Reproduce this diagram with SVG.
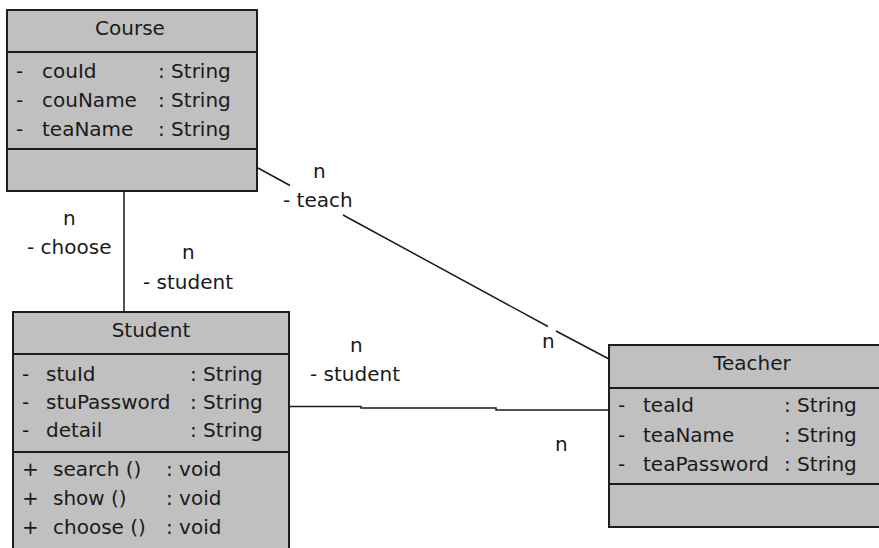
<svg xmlns="http://www.w3.org/2000/svg" width="879" height="548" viewBox="0 0 879 548">
  <style>
    .box { fill: #c0c0c0; stroke: #1e1e1e; stroke-width: 2; }
    .sep { stroke: #1e1e1e; stroke-width: 2; }
    .conn { stroke: #1a1a1a; stroke-width: 1.5; fill: none; }
    text { font-family: "DejaVu Sans", "Liberation Sans", sans-serif; font-size: 20px; fill: #1a1a1a; }
    .mid { text-anchor: middle; }
  </style>
  <rect x="0" y="0" width="879" height="548" fill="#ffffff"/>

  <!-- connectors -->
  <g id="connectors">
    <!-- Course - Student -->
    <line class="conn" x1="124" y1="191" x2="124" y2="312"/>
    <!-- Course - Teacher (broken where the role labels sit) -->
    <line class="conn" x1="258" y1="168" x2="290" y2="185.5"/>
    <line class="conn" x1="343" y1="215" x2="548" y2="326.5"/>
    <line class="conn" x1="556" y1="331" x2="609" y2="359"/>
    <!-- Student - Teacher -->
    <polyline class="conn" points="289,406.5 361,406.5 361,408 496,408 496,410 609,410"/>
  </g>

  <!-- role / multiplicity labels -->
  <g id="labels">
    <text x="63" y="225">n</text>
    <text x="27" y="254">- choose</text>
    <text x="182" y="259">n</text>
    <text x="143" y="289">- student</text>
    <text x="313" y="178">n</text>
    <text x="283" y="207">- teach</text>
    <text x="542" y="348">n</text>
    <text x="350" y="352">n</text>
    <text x="310" y="381">- student</text>
    <text x="555" y="451">n</text>
  </g>

  <!-- Course class -->
  <g id="course">
    <rect class="box" x="7" y="10" width="250" height="181"/>
    <line class="sep" x1="7" y1="52" x2="257" y2="52"/>
    <line class="sep" x1="7" y1="149" x2="257" y2="149"/>
    <text class="mid" x="130" y="35">Course</text>
    <text x="16" y="78">-</text><text x="42" y="78">couId</text><text x="158" y="78">: String</text>
    <text x="16" y="107">-</text><text x="42" y="107">couName</text><text x="158" y="107">: String</text>
    <text x="16" y="136">-</text><text x="42" y="136">teaName</text><text x="158" y="136">: String</text>
  </g>

  <!-- Student class -->
  <g id="student">
    <rect class="box" x="13" y="312" width="276" height="250"/>
    <line class="sep" x1="13" y1="354" x2="289" y2="354"/>
    <line class="sep" x1="13" y1="452" x2="289" y2="452"/>
    <text class="mid" x="151" y="337">Student</text>
    <text x="22" y="381">-</text><text x="46" y="381">stuId</text><text x="190" y="381">: String</text>
    <text x="22" y="409">-</text><text x="46" y="409">stuPassword</text><text x="190" y="409">: String</text>
    <text x="22" y="437">-</text><text x="46" y="437">detail</text><text x="190" y="437">: String</text>
    <text x="22" y="476">+</text><text x="53" y="476">search ()</text><text x="166" y="476">: void</text>
    <text x="22" y="505">+</text><text x="53" y="505">show ()</text><text x="166" y="505">: void</text>
    <text x="22" y="534">+</text><text x="53" y="534">choose ()</text><text x="166" y="534">: void</text>
  </g>

  <!-- Teacher class -->
  <g id="teacher">
    <rect class="box" x="609" y="345" width="280" height="182"/>
    <line class="sep" x1="609" y1="388" x2="889" y2="388"/>
    <line class="sep" x1="609" y1="484" x2="889" y2="484"/>
    <text class="mid" x="752" y="370">Teacher</text>
    <text x="618" y="412">-</text><text x="643" y="412">teaId</text><text x="784" y="412">: String</text>
    <text x="618" y="442">-</text><text x="643" y="442">teaName</text><text x="784" y="442">: String</text>
    <text x="618" y="471">-</text><text x="643" y="471">teaPassword</text><text x="784" y="471">: String</text>
  </g>
</svg>
